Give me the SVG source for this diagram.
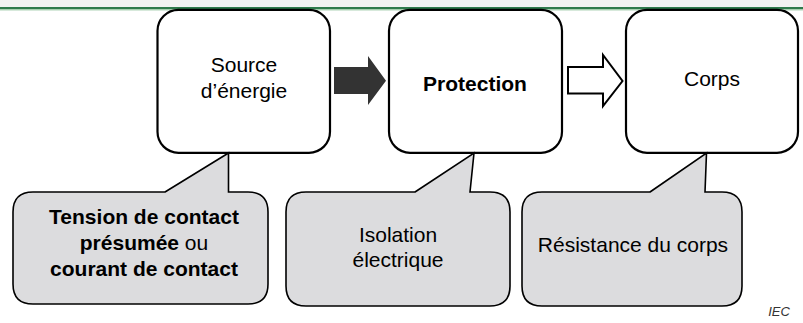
<svg xmlns="http://www.w3.org/2000/svg" width="803" height="323" viewBox="0 0 803 323">
<style>
.box{fill:#fff;stroke:#000;stroke-width:2.2}
.call{fill:#dcdcde;stroke:#000;stroke-width:1.6;stroke-linejoin:miter}
text{font-family:"Liberation Sans",Arial,sans-serif;font-size:21px;fill:#000;text-anchor:middle}
.b{font-weight:bold}
</style>
<rect x="0" y="0" width="803" height="7" fill="#f2f2f2"/>
<rect x="0" y="7" width="803" height="2.2" fill="#2f7a4c"/>
<rect x="0" y="9.2" width="803" height="1.2" fill="#9cc9a6"/>
<g id="connectors">
<polygon points="334,67 368,67 368,56 386,80.7 368,105 368,94 334,94" fill="#333"/>
<polygon points="568,67 603,67 603,55 622.5,81 603,106 603,93.5 568,93.5" fill="#fff" stroke="#000" stroke-width="2"/>
</g>
<g id="source">
<rect class="box" x="157.5" y="9.8" width="172.5" height="143" rx="21"/>
<text x="244" y="72">Source</text>
<text x="244" y="97.5">d’énergie</text>
</g>
<g id="protection">
<rect class="box" x="389" y="9.8" width="173" height="143" rx="21"/>
<text class="b" x="475" y="91">Protection</text>
</g>
<g id="corps">
<rect class="box" x="626" y="9.8" width="172" height="143" rx="21"/>
<text x="712" y="86">Corps</text>
</g>
<g id="callout-tension">
<path class="call" d="M165,192 L228.5,153 L228.5,192 L248,192 Q268,192 268,212 L268,284 Q268,304 248,304 L33,304 Q13,304 13,284 L13,212 Q13,192 33,192 Z"/>
<text class="b" x="144" y="224">Tension de contact</text>
<text x="144" y="250"><tspan class="b">présumée</tspan> ou</text>
<text class="b" x="144" y="276">courant de contact</text>
</g>
<g id="callout-isolation">
<path class="call" d="M415,192 L474,153 L470,192 L490,192 Q510,192 510,212 L510,286 Q510,306 490,306 L306,306 Q286,306 286,286 L286,212 Q286,192 306,192 Z"/>
<text x="398" y="242">Isolation</text>
<text x="398" y="267">électrique</text>
</g>
<g id="callout-resistance">
<path class="call" d="M650,192 L706.5,153 L705,192 L722,192 Q742,192 742,212 L742,286 Q742,306 722,306 L542,306 Q522,306 522,286 L522,212 Q522,192 542,192 Z"/>
<text x="633" y="251.7">Résistance du corps</text>
</g>
<text x="779" y="316" style="font-size:13px;font-style:italic;fill:#333">IEC</text>
</svg>
